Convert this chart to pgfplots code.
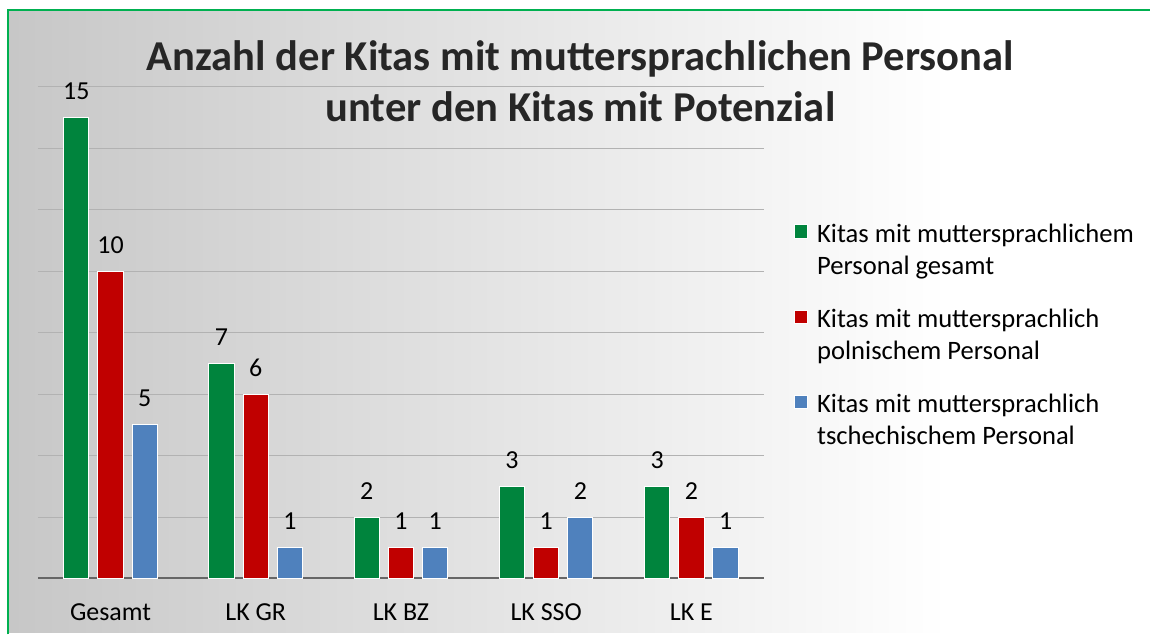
\documentclass[border=0pt]{standalone}
\usepackage{fontspec}
\setmainfont{Carlito}
\usepackage{pgfplots}
\pgfplotsset{compat=1.18}
\definecolor{cgreen}{RGB}{0,132,61}
\definecolor{cred}{RGB}{192,0,0}
\definecolor{cblue}{RGB}{79,129,189}
\definecolor{frame}{RGB}{0,176,80}
\begin{document}
\begin{tikzpicture}[x=0.75pt,y=0.75pt]
% background and frame (pixel units)
\fill[white] (0,0) rectangle (1151,634);
\shade[left color=black!22, middle color=black!9, right color=white] (8,0) rectangle (950,624);
\draw[frame, line width=1.5pt] (8,-2) -- (8,624) -- (1153,624);
\begin{axis}[
  at={(28.5pt,40.5pt)}, anchor=south west,
  scale only axis, width=546pt, height=369.75pt,
  ybar=6.7pt, bar width=19pt,
  ymin=0, ymax=16, ytick={2,4,...,16}, yticklabels={},
  xmin=-0.5, xmax=4.5, xtick={0,...,4},
  xticklabels={Gesamt, LK GR, LK BZ, LK SSO, LK E},
  major tick length=0pt,
  axis x line*=bottom, axis y line*=left,
  x axis line style={black!60, line width=1.5pt},
  y axis line style={draw=none},
  ymajorgrids, grid style={black!30, line width=0.75pt},
  tick label style={font=\fontsize{19.5}{24}\selectfont, black},
  xticklabel style={anchor=base, inner sep=0pt, yshift=-31.5pt},
  /pgf/number format/assume math mode=true,
  nodes near coords,
  every node near coord/.append style={font=\fontsize{19.5}{24}\selectfont, black, inner sep=0pt, yshift=13pt},
  legend style={at={(1.0357,0.735)}, anchor=north west, draw=none, fill=none,
    font=\fontsize{20}{24}\selectfont, row sep=21.75pt, column sep=6.5pt,
    nodes={inner sep=0pt}, cells={anchor=west, align=left}},
  legend image code/.code={\fill[#1] (0pt,7.5pt) rectangle (10pt,17.5pt);},
]
\addplot[fill=cgreen, draw=white, line width=0.75pt] coordinates {(0,15) (1,7) (2,2) (3,3) (4,3)};
\addplot[fill=cred, draw=white, line width=0.75pt] coordinates {(0,10) (1,6) (2,1) (3,1) (4,2)};
\addplot[fill=cblue, draw=white, line width=0.75pt] coordinates {(0,5) (1,1) (2,1) (3,2) (4,1)};
\legend{\strut Kitas mit muttersprachlichem\\\strut Personal gesamt,
        \strut Kitas mit muttersprachlich\\\strut polnischem Personal,
        \strut Kitas mit muttersprachlich\\\strut tschechischem Personal}
\end{axis}
\node[anchor=base, font=\bfseries\fontsize{32}{38}\selectfont, text=black!85] at (582,563) {Anzahl der Kitas mit muttersprachlichen Personal};
\node[anchor=base, font=\bfseries\fontsize{32}{38}\selectfont, text=black!85] at (582,512) {unter den Kitas mit Potenzial};
\end{tikzpicture}
\end{document}
